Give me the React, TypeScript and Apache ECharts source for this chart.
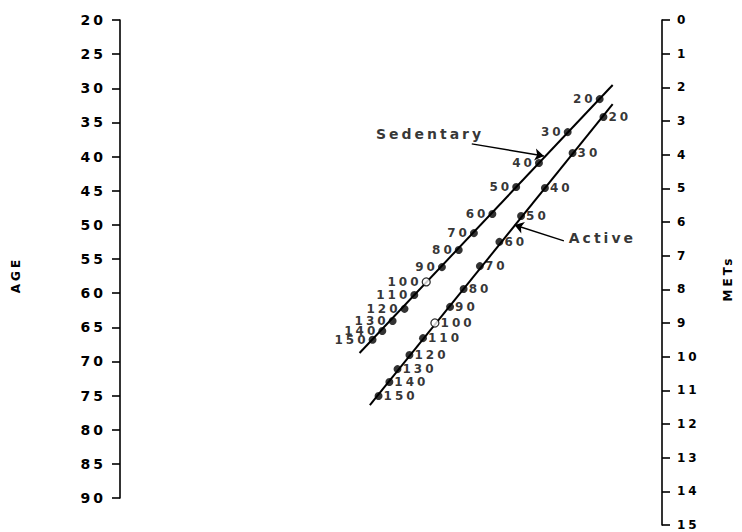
import { useEffect, useRef } from "react";
import * as echarts from "echarts";

// Axis tick labels
const ageTicks = [20, 25, 30, 35, 40, 45, 50, 55, 60, 65, 70, 75, 80, 85, 90];
const metTicks = [0, 1, 2, 3, 4, 5, 6, 7, 8, 9, 10, 11, 12, 13, 14, 15];

// Points along the two nomogram lines (position across the chart 0-100, METs scale)
const pointLabels = ["20", "30", "40", "50", "60", "70", "80", "90", "100", "110", "120", "130", "140", "150"];
const openPointLabel = "100";
const sedentaryPos = [88.5, 82.6, 77.3, 73.1, 68.7, 65.3, 62.5, 59.4, 56.5, 54.3, 52.5, 50.3, 48.4, 46.6];
const sedentaryMet = [2.35, 3.33, 4.25, 4.96, 5.76, 6.33, 6.83, 7.34, 7.78, 8.17, 8.58, 8.94, 9.24, 9.5];
const activePos = [89.2, 83.5, 78.4, 74.0, 70.0, 66.4, 63.4, 60.9, 58.1, 55.9, 53.4, 51.2, 49.7, 47.7];
const activeMet = [2.88, 3.95, 4.99, 5.82, 6.59, 7.31, 7.99, 8.52, 9.0, 9.45, 9.95, 10.37, 10.75, 11.17];

// Line end points
const sedentaryLinePos = [90.9, 44.2];
const sedentaryLineMet = [1.93, 9.89];
const activeLinePos = [90.9, 46.1];
const activeLineMet = [2.5, 11.44];

// Annotations
const annotationNames = ["Sedentary", "Active"];
const annotationPos = [57.2, 82.8];
const annotationMet = [3.39, 6.48];
const arrowFromPos = [64.9, 81.9];
const arrowFromMet = [3.68, 6.56];
const arrowToPos = [78.2, 72.8];
const arrowToMet = [4.04, 6.09];

const FONT = "DejaVu Sans";
const INK = "#000";

export default function App() {
  const ref = useRef<HTMLDivElement>(null);
  useEffect(() => {
    if (!ref.current) return;
    const chart = echarts.init(ref.current, undefined, { renderer: "svg" });

    const mkPoints = (pos: number[], met: number[]) =>
      pos.map((p, i) => {
        const open = pointLabels[i] === openPointLabel;
        return {
          name: pointLabels[i],
          value: [p, met[i]],
          itemStyle: open
            ? { color: "#fff", borderColor: INK, borderWidth: 1.3 }
            : { color: INK, borderWidth: 0 },
        };
      });

    const axisCommon = {
      axisLine: { show: true, onZero: false, lineStyle: { color: INK, width: 1.6 } },
      axisTick: { show: true, length: 8, lineStyle: { color: INK, width: 1.6 } },
      splitLine: { show: false },
    };

    const pointLabel = {
      show: true,
      formatter: "{b}",
      fontFamily: FONT,
      fontWeight: "bold",
      fontSize: 12,
      lineHeight: 11,
      color: INK,
    };

    chart.setOption({
      animation: false,
      backgroundColor: "#fff",
      textStyle: { fontFamily: FONT, fontWeight: "bold", color: INK },
      grid: [
        { left: 120, top: 20, width: 547, height: 478 },
        { left: 120, top: 20, width: 547, height: 505 },
      ],
      xAxis: [
        { type: "value", gridIndex: 0, min: 0, max: 100, show: false },
        { type: "value", gridIndex: 1, min: 0, max: 100, show: false },
      ],
      yAxis: [
        {
          type: "value",
          gridIndex: 0,
          position: "left",
          inverse: true,
          min: ageTicks[0],
          max: ageTicks[ageTicks.length - 1],
          interval: ageTicks[1] - ageTicks[0],
          name: "AGE",
          nameLocation: "middle",
          nameRotate: 90,
          nameGap: 98,
          nameTextStyle: { fontFamily: FONT, fontWeight: "bold", fontSize: 12, color: INK, padding: [0, 32, 0, 0] },
          ...axisCommon,
          axisLabel: { margin: 14, fontSize: 14, fontFamily: FONT, fontWeight: "bold", color: INK, interval: 0 },
        },
        {
          type: "value",
          gridIndex: 1,
          position: "right",
          inverse: true,
          min: metTicks[0],
          max: metTicks[metTicks.length - 1],
          interval: metTicks[1] - metTicks[0],
          name: "METs",
          nameLocation: "middle",
          nameRotate: 90,
          nameGap: 60,
          nameTextStyle: { fontFamily: FONT, fontWeight: "bold", fontSize: 12, color: INK, padding: [0, 12, 0, 0] },
          ...axisCommon,
          axisLabel: { margin: 15, fontSize: 12, fontFamily: FONT, fontWeight: "bold", color: INK, interval: 0 },
        },
      ],
      series: [
        {
          type: "line",
          xAxisIndex: 1,
          yAxisIndex: 1,
          symbol: "none",
          lineStyle: { color: INK, width: 2 },
          data: sedentaryLinePos.map((p, i) => [p, sedentaryLineMet[i]]),
          z: 2,
        },
        {
          type: "line",
          xAxisIndex: 1,
          yAxisIndex: 1,
          symbol: "none",
          lineStyle: { color: INK, width: 2 },
          data: activeLinePos.map((p, i) => [p, activeLineMet[i]]),
          z: 2,
        },
        {
          type: "scatter",
          xAxisIndex: 1,
          yAxisIndex: 1,
          symbol: "circle",
          symbolSize: 8,
          data: mkPoints(sedentaryPos, sedentaryMet),
          label: { ...pointLabel, position: "left", distance: 0 },
          z: 3,
        },
        {
          type: "scatter",
          xAxisIndex: 1,
          yAxisIndex: 1,
          symbol: "circle",
          symbolSize: 8,
          data: mkPoints(activePos, activeMet),
          label: { ...pointLabel, position: "right", distance: 1 },
          z: 3,
        },
        {
          type: "lines",
          coordinateSystem: "cartesian2d",
          xAxisIndex: 1,
          yAxisIndex: 1,
          symbol: ["none", "arrow"],
          symbolSize: [0, 9],
          lineStyle: { color: INK, width: 1.4, opacity: 1 },
          data: arrowFromPos.map((p, i) => ({
            coords: [
              [p, arrowFromMet[i]],
              [arrowToPos[i], arrowToMet[i]],
            ],
          })),
          z: 2,
        },
        {
          type: "scatter",
          xAxisIndex: 1,
          yAxisIndex: 1,
          symbolSize: 0,
          data: annotationNames.map((n, i) => ({
            name: n,
            value: [annotationPos[i], annotationMet[i]],
            label: i === 0 ? { position: "inside" } : { position: "right", distance: 0 },
          })),
          label: { ...pointLabel, fontSize: 14, lineHeight: 16 },
          z: 4,
        },
      ],
    });
    return () => chart.dispose();
  }, []);

  return (
    <>
      <style>{`#root svg text { letter-spacing: 3px; }`}</style>
      <div
        ref={ref}
        style={{ position: "fixed", left: 0, top: 0, width: 742, height: 532, background: "#fff" }}
      />
    </>
  );
}
